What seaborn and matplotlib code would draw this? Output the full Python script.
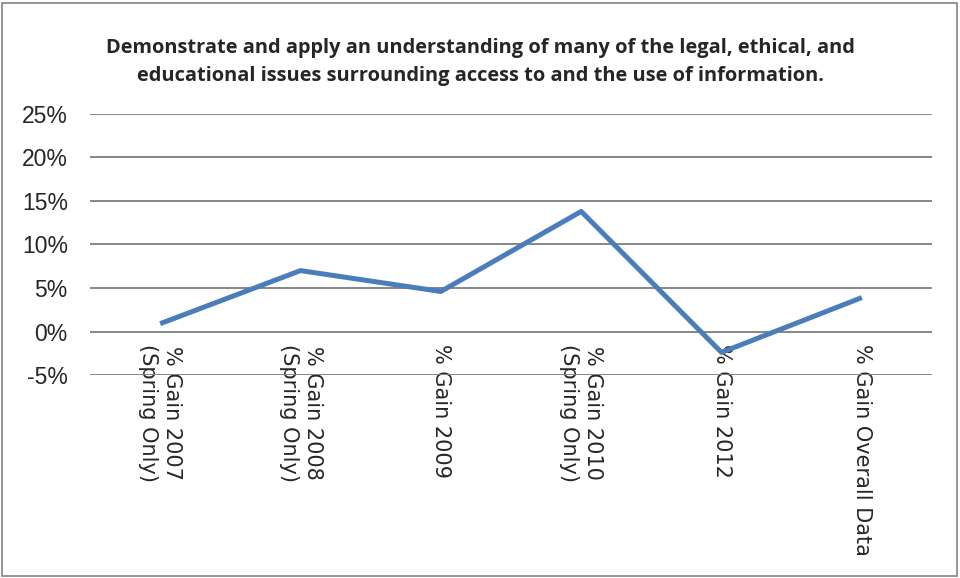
import matplotlib
matplotlib.use("Agg")
import matplotlib.pyplot as plt
import seaborn as sns
import pandas as pd
from matplotlib.patches import Rectangle

# Category labels and percentage gains
categories = [
    "% Gain 2007\n(Spring Only)",
    "% Gain 2008\n(Spring Only)",
    "% Gain 2009",
    "% Gain 2010\n(Spring Only)",
    "% Gain 2012",
    "% Gain Overall Data",
]
gains = [0.9, 7.0, 4.6, 13.8, -2.4, 3.9]
y_ticks = [-5, 0, 5, 10, 15, 20, 25]
title = ("Demonstrate and apply an understanding of many of the legal, ethical, and\n"
         "educational issues surrounding access to and the use of information.")

sns.set_theme(style="white")
plt.rcParams["font.family"] = ["DejaVu Sans"]

df = pd.DataFrame({"pos": range(len(categories)), "gain": gains})

fig = plt.figure(figsize=(9.6, 5.78), dpi=100)
ax = fig.add_axes([0.09375, 0.3512, 0.8771, 0.4516])

grid_color = "#868686"
for t in y_ticks:
    ax.axhline(t, color=grid_color, lw=1.4, zorder=1)

sns.lineplot(data=df, x="pos", y="gain", ax=ax, color="#4A7EBB", lw=3.6,
             zorder=3, solid_capstyle="butt")

ax.set_xlim(-0.5, len(categories) - 0.5)
ax.set_ylim(-5, 25)
ax.set_yticks(y_ticks)
ax.set_yticklabels([f"{t}%" for t in y_ticks], fontsize=16.5,
                   family=["Liberation Sans Narrow", "Liberation Sans", "DejaVu Sans"])
ax.tick_params(axis="y", length=0, pad=16)

# Category labels hang below the 0% line
ax.spines["bottom"].set_position(("data", 0))
ax.spines["bottom"].set_visible(False)
for side in ("top", "left", "right"):
    ax.spines[side].set_visible(False)
ax.set_xticks(range(len(categories)))
ax.set_xticklabels(categories, rotation=270, fontsize=15, va="top",
                   ha="center", linespacing=1.25)
ax.tick_params(axis="x", length=0, pad=9)
ax.set_xlabel("")
ax.set_ylabel("")
ax.patch.set_alpha(0)

fig.text(0.5, 0.893, title, ha="center", va="center", fontsize=14.4,
         fontweight="bold", family=["Open Sans", "DejaVu Sans"], linespacing=1.55)

# Outer chart frame
fig.patches.append(Rectangle((0.002, 0.004), 0.995, 0.99, transform=fig.transFigure,
                             fill=False, edgecolor="#8C8C8C", lw=1.3))

fig.savefig("out.png", dpi=100)
